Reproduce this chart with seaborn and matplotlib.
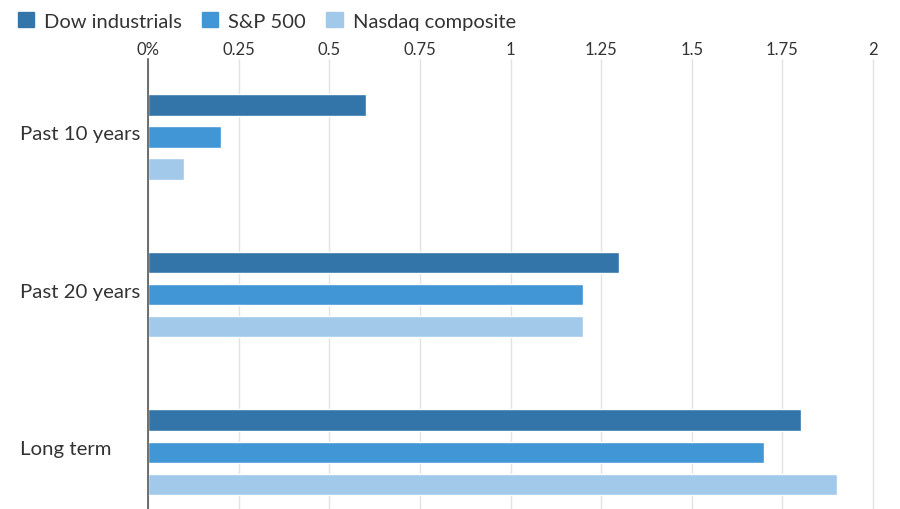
import numpy as np
import pandas as pd
import seaborn as sns
import matplotlib.pyplot as plt
import matplotlib.transforms as mtransforms

periods = ['Past 10 years', 'Past 20 years', 'Long term']
series = ['Dow industrials', 'S&P 500', 'Nasdaq composite']
dow = [0.6, 1.3, 1.8]
sp500 = [0.2, 1.2, 1.7]
nasdaq = [0.1, 1.2, 1.9]
xticks = [0, 0.25, 0.5, 0.75, 1, 1.25, 1.5, 1.75, 2]
xticklabels = ['0%', '0.25', '0.5', '0.75', '1', '1.25', '1.5', '1.75', '2']
colors = ['#3375a9', '#4196d6', '#a2c9ea']

df = pd.DataFrame({'Period': periods * 3,
                   'Index': np.repeat(series, 3),
                   'Value': dow + sp500 + nasdaq})

sns.set_style('white')
plt.rcParams['font.family'] = ['Lato', 'DejaVu Sans']
txt = '#333333'

fig = plt.figure(figsize=(9, 5.1), dpi=100)
ax = fig.add_axes([148/900, 0, (890-148)/900, 1 - 60/510])

sns.barplot(data=df, y='Period', x='Value', hue='Index', order=periods,
            hue_order=series, palette=colors, orient='h', width=0.61,
            gap=0.33, saturation=1, ax=ax, legend=False)

ax.set_xlim(0, (890-148)/362.5)
ax.set_ylim(2.36, -0.495)
ax.set_xticks(xticks)
ax.set_xticklabels(xticklabels)
ax.xaxis.tick_top()
ax.grid(axis='x', color='#e3e3e3', linewidth=1)
ax.set_axisbelow(True)
for s in ['top', 'right', 'bottom']:
    ax.spines[s].set_visible(False)
ax.spines['left'].set_color('#555555')
ax.spines['left'].set_linewidth(1.2)
ax.set_xlabel('')
ax.set_ylabel('')
ax.tick_params(axis='x', length=0, pad=1.5, labelsize=12, labelcolor=txt)
ax.tick_params(axis='y', length=0, pad=92, labelsize=14.7, labelcolor=txt)
shift = mtransforms.ScaledTranslation(0, 5/100, fig.dpi_scale_trans)
for lab in ax.get_yticklabels():
    lab.set_horizontalalignment('left')
    lab.set_transform(lab.get_transform() + shift)

handles = [plt.Rectangle((0, 0), 1, 1, color=c) for c in colors]
fig.legend(handles, series, loc='upper left', bbox_to_anchor=(0.0, 1.01),
           ncol=3, frameon=False, handlelength=0.8, handleheight=0.8,
           handletextpad=0.5, columnspacing=1.0, fontsize=14.5,
           labelcolor=txt)

fig.savefig('out.png', dpi=100)
